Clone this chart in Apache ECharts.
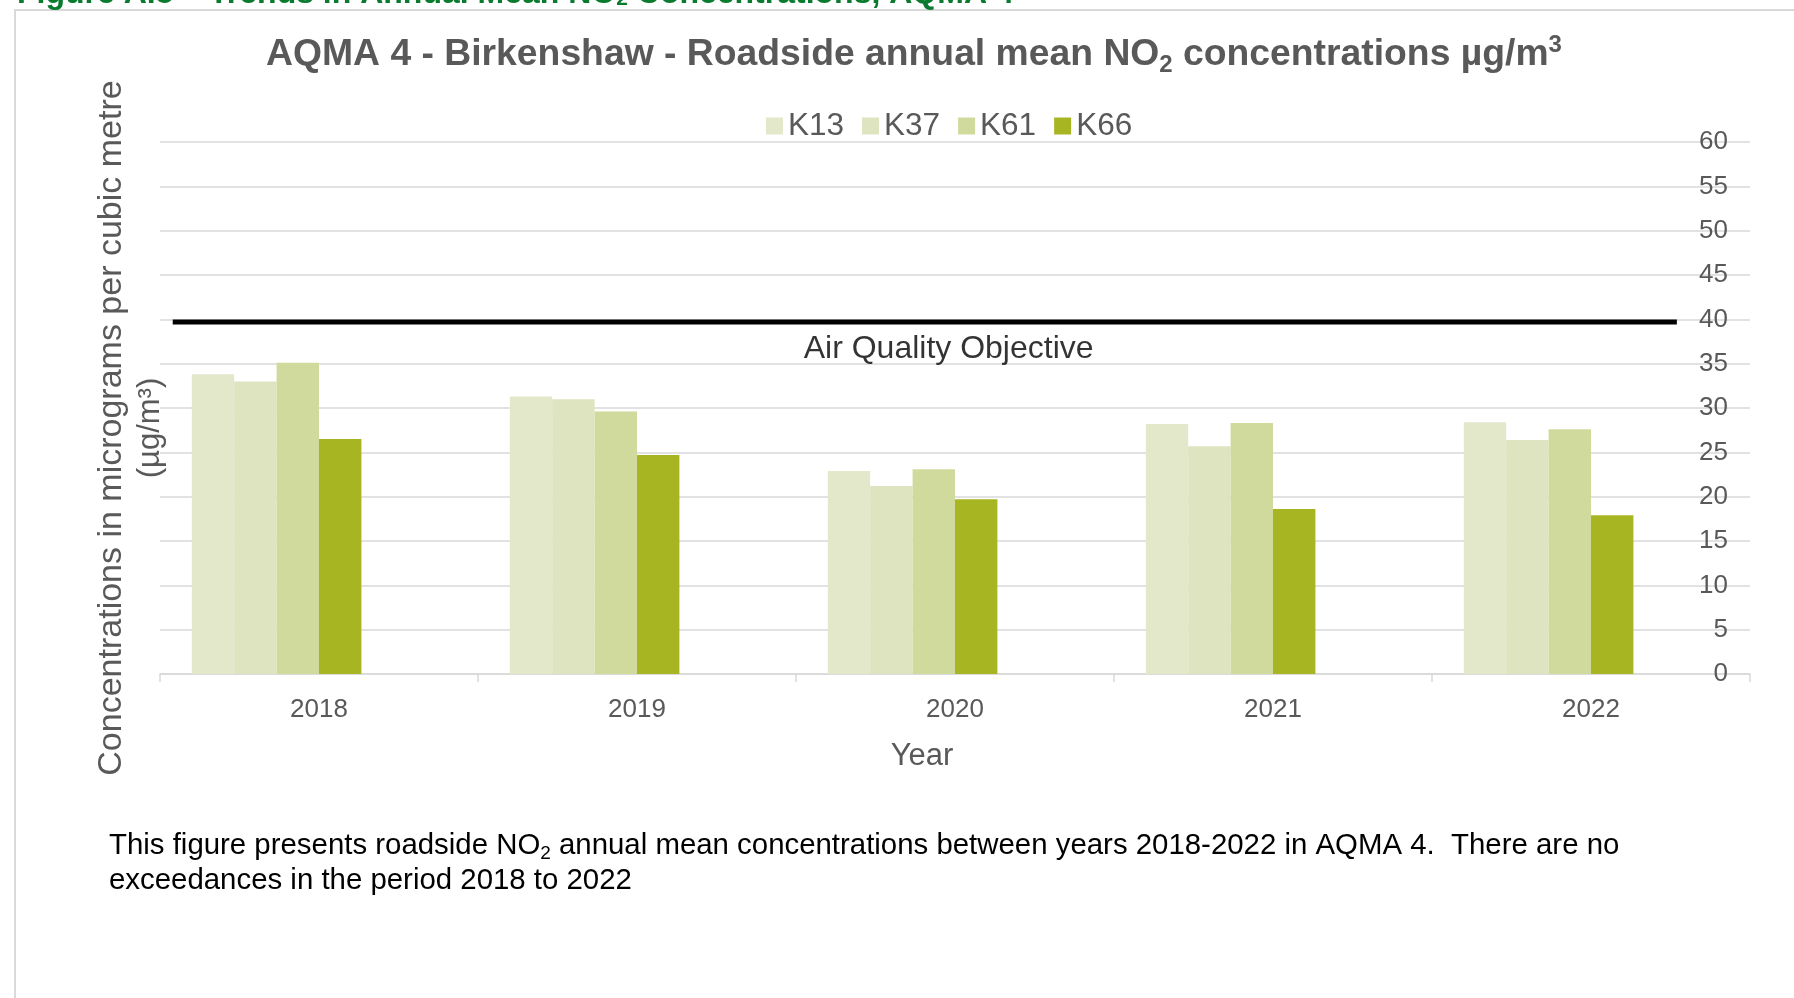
<!DOCTYPE html>
<html><head><meta charset="utf-8">
<script src="https://cdn.jsdelivr.net/npm/echarts@6/dist/echarts.min.js"></script>
<style>html,body{margin:0;padding:0;background:#fff}#c{width:1794px;height:998px}</style>
</head><body><div id="c"></div>
<script>
const years = ['2018', '2019', '2020', '2021', '2022'];
const seriesNames = ['K13', 'K37', 'K61', 'K66'];
const k13 = [33.8, 31.3, 22.9, 28.2, 28.4];
const k37 = [33.0, 31.0, 21.2, 25.7, 26.4];
const k61 = [35.1, 29.6, 23.1, 28.3, 27.6];
const k66 = [26.5, 24.7, 19.7, 18.6, 17.9];
const yMin = 0, yMax = 60, yInterval = 5;
const aqoValue = 39.7;              // objective line as drawn in the picture
const aqoSpan = [-0.46, 4.27];      // category-index extent of the objective line
const aqoLabelPos = [1.98, 36.65];
const aqoLabel = 'Air Quality Objective';
const titleText = '{t|AQMA 4 - Birkenshaw - Roadside annual mean NO}{sub|2}{t| concentrations µg/m}{sup|3}';
const headerText = 'Figure A.5 – Trends in Annual Mean NO{sub|2} Concentrations, AQMA 4';
const yNameText = '{a|Concentrations in micrograms per cubic metre}\n{b|(µg/m³)}';
const xName = 'Year';
const footerText = '{f|This figure presents roadside NO}{sub|2}{f| annual mean concentrations between years 2018-2022 in AQMA 4.  There are no}\n{f|exceedances in the period 2018 to 2022}';

const FONT = '"Liberation Sans", Arial, sans-serif';
const GREY = '#595959';
const GRID = '#d9d9d9';
const colors = ['#e3e8cb', '#dde4bf', '#d0da9c', '#a8b523'];
const values = [k13, k37, k61, k66];

const chart = echarts.init(document.getElementById('c'), null, {renderer: 'canvas'});

const barSeries = seriesNames.map((n, i) => ({
  type: 'bar', name: n, data: values[i], xAxisIndex: 0, yAxisIndex: 0,
  barGap: '0%', barCategoryGap: '20%',
  itemStyle: {color: colors[i]}, silent: true
}));
// two empty slots (as in the original chart layout)
barSeries.push({type: 'bar', name: 'pad1', data: [], barGap: '0%', barCategoryGap: '20%'});
barSeries.push({type: 'bar', name: 'pad2', data: [], barGap: '0%', barCategoryGap: '20%'});

chart.setOption({
  animation: false,
  textStyle: {fontFamily: FONT},
  title: [{
    text: titleText, left: 914, textAlign: 'center', top: 33, padding: 0,
    textStyle: {rich: {
      t: {fontFamily: FONT, fontSize: 37.3, fontWeight: 'bold', color: GREY, lineHeight: 44},
      sub: {fontFamily: FONT, fontSize: 24, fontWeight: 'bold', color: GREY, lineHeight: 18, verticalAlign: 'bottom'},
      sup: {fontFamily: FONT, fontSize: 24, fontWeight: 'bold', color: GREY, lineHeight: 24, verticalAlign: 'top'}
    }}
  }, {
    text: footerText, left: 109, top: 828, padding: 0,
    textStyle: {rich: {
      f: {fontFamily: FONT, fontSize: 29.4, fontWeight: 'normal', color: '#000', lineHeight: 35},
      sub: {fontFamily: FONT, fontSize: 19, fontWeight: 'normal', color: '#000', lineHeight: 13, verticalAlign: 'bottom'}
    }}
  }],
  legend: {
    data: seriesNames, left: 766, top: 110, padding: 0,
    icon: 'rect', itemWidth: 17, itemHeight: 17, itemGap: 18,
    textStyle: {fontFamily: FONT, fontSize: 31.5, color: GREY, lineHeight: 30}
  },
  grid: {left: 160, right: 44, top: 142, bottom: 324, containLabel: false},
  xAxis: [{
    type: 'category', data: years, boundaryGap: true,
    axisLine: {show: true, lineStyle: {color: GRID, width: 1.5}},
    axisTick: {show: true, length: 8, lineStyle: {color: GRID, width: 1.5}},
    axisLabel: {fontFamily: FONT, fontSize: 26, color: GREY, margin: 23},
    name: xName, nameLocation: 'middle', nameGap: 67,
    nameTextStyle: {fontFamily: FONT, fontSize: 31, color: GREY, padding: [0, 66, 0, 0]}
  }, {
    type: 'value', min: -0.5, max: 4.5, show: false
  }],
  yAxis: [{
    type: 'value', position: 'right', min: yMin, max: yMax, interval: yInterval,
    axisLine: {show: false}, axisTick: {show: false},
    axisLabel: {inside: true, margin: 22, fontFamily: FONT, fontSize: 26, color: GREY},
    splitLine: {show: true, lineStyle: {color: GRID, width: 1.5}}
  }],
  series: barSeries.concat([{
    type: 'line', name: 'aqo', xAxisIndex: 1, yAxisIndex: 0,
    data: [[aqoSpan[0], aqoValue], [aqoSpan[1], aqoValue]],
    symbol: 'none', lineStyle: {color: '#000', width: 5}, z: 5, silent: true
  }, {
    type: 'scatter', name: 'aqoLabel', xAxisIndex: 1, yAxisIndex: 0,
    data: [aqoLabelPos], symbolSize: 0, silent: true,
    label: {show: true, position: 'inside', formatter: aqoLabel,
      fontFamily: FONT, fontSize: 32, color: '#000'}
  }]),
  graphic: [{
    type: 'rect', z: -10, silent: true,
    shape: {x: 15, y: 10, width: 1900, height: 1200},
    style: {fill: 'none', stroke: GRID, lineWidth: 2}
  }, {
    type: 'text', x: 17, y: -6, silent: true,
    style: {text: headerText, fontFamily: FONT, fontSize: 32, fontWeight: 'bold', fill: '#0a7a2f',
      align: 'left', verticalAlign: 'middle',
      rich: {sub: {fontFamily: FONT, fontSize: 21, fontWeight: 'bold', fill: '#0a7a2f', lineHeight: 14, verticalAlign: 'bottom'}}}
  }, {
    type: 'text', x: 131, y: 428, rotation: Math.PI / 2, silent: true,
    style: {text: yNameText, align: 'center', verticalAlign: 'middle',
      rich: {
        a: {fontFamily: FONT, fontSize: 34, fill: GREY, lineHeight: 38},
        b: {fontFamily: FONT, fontSize: 31, fill: GREY, lineHeight: 38}
      }}
  }]
});
</script></body></html>
